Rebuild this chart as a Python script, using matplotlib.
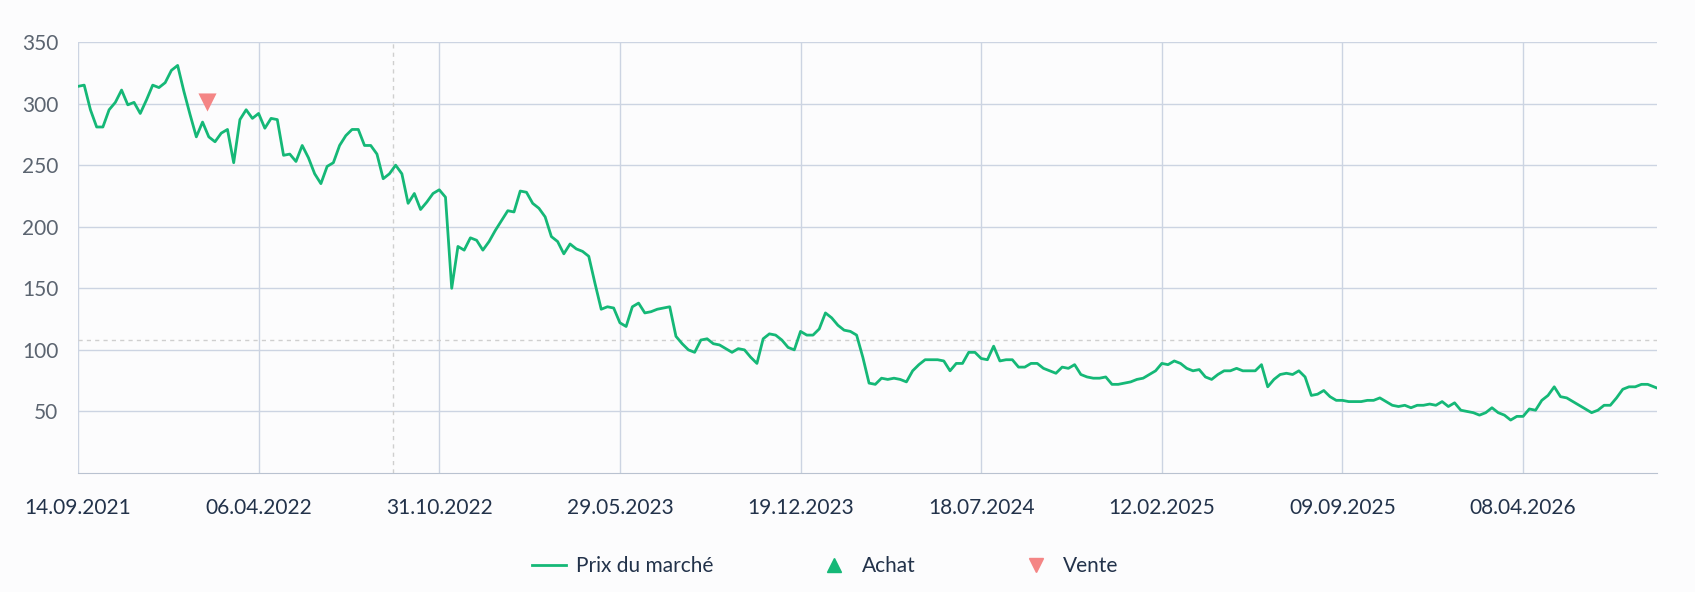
import matplotlib
matplotlib.use("Agg")
import matplotlib.pyplot as plt
import numpy as np
from matplotlib.lines import Line2D

plt.rcParams['font.family'] = ['Lato', 'DejaVu Sans']

# weekly closes (x axis is trading-time: one sample = 5 trading days)
prices = [314,315,295,281,281,295,301,311,299,301,292,303,315,313,317,327,331,310,291,273,
          285,273,269,276,279,252,287,295,288,292,280,288,287,258,259,253,266,256,243,235,
          249,252,266,274,279,279,266,266,259,239,243,250,243,219,227,214,220,227,230,224,
          150,184,181,191,189,181,188,197,205,213,212,229,228,219,215,208,192,188,178,186,
          182,180,176,154,133,135,134,122,119,135,138,130,131,133,134,135,111,105,100,98,
          108,109,105,104,101,98,101,100,94,89,109,113,112,108,102,100,115,112,112,117,
          130,126,120,116,115,112,94,73,72,77,76,77,76,74,83,88,92,92,92,91,
          83,89,89,98,98,93,92,103,91,92,92,86,86,89,89,85,83,81,86,85,
          88,80,78,77,77,78,72,72,73,74,76,77,80,83,89,88,91,89,85,83,
          84,78,76,80,83,83,85,83,83,83,88,70,76,80,81,80,83,78,63,64,
          67,62,59,59,58,58,58,59,59,61,58,55,54,55,53,55,55,56,55,58,
          54,57,51,50,49,47,49,53,49,47,43,46,46,52,51,59,63,70,62,61,
          58,55,52,49,51,55,55,61,68,70,70,72,72,70,68]
x = np.arange(len(prices))

tick_labels = ["14.09.2021","06.04.2022","31.10.2022","29.05.2023","19.12.2023",
               "18.07.2024","12.02.2025","09.09.2025","08.04.2026"]
samples_per_tick = 29
y_ticks = [50,100,150,200,250,300,350]

sell_index = [20.7]
sell_values = [301]
ref_index = 50.6
ref_value = 108

green = "#15b877"
red = "#f48585"
grid = "#ccd4e2"
bg = "#fcfcfd"

fig = plt.figure(figsize=(16.95, 5.92), dpi=100, facecolor=bg)
ax = fig.add_axes([0.046, 0.201, 0.9316, 0.728], facecolor=bg)
ax.plot(x, prices, color=green, lw=2, zorder=3)
ax.scatter(sell_index, sell_values, marker="v", s=170, color=red, zorder=4, linewidths=0)
ax.axvline(ref_index, color="#cfcfcf", ls=(0, (3, 3)), lw=1, zorder=2)
ax.axhline(ref_value, color="#cfcfcf", ls=(0, (3, 3)), lw=1, zorder=2)

ax.set_xlim(0, 253.5)
ax.set_ylim(0, 350)
ax.set_xticks(np.arange(len(tick_labels)) * samples_per_tick)
ax.set_xticklabels(tick_labels)
ax.set_yticks(y_ticks)
ax.grid(True, color=grid, lw=1)
for s in ["top", "right", "left"]:
    ax.spines[s].set_visible(False)
ax.spines["bottom"].set_color("#b9c2d0")
ax.tick_params(axis="y", length=0, pad=14, labelsize=15, colors="#5b6470")
ax.tick_params(axis="x", length=0, pad=18, labelsize=15, colors="#22324a")

handles = [Line2D([], [], color=green, lw=2),
           Line2D([], [], marker="^", color=green, ls="", markersize=10),
           Line2D([], [], marker="v", color=red, ls="", markersize=10)]
fig.legend(handles, ["Prix du marché", "Achat", "Vente"], loc="center",
           bbox_to_anchor=(0.487, 0.044), ncol=3, frameon=False, fontsize=15,
           columnspacing=5, handlelength=1.6, handletextpad=0.5, labelcolor="#22324a")
fig.savefig("out.png", dpi=100, facecolor=bg)
